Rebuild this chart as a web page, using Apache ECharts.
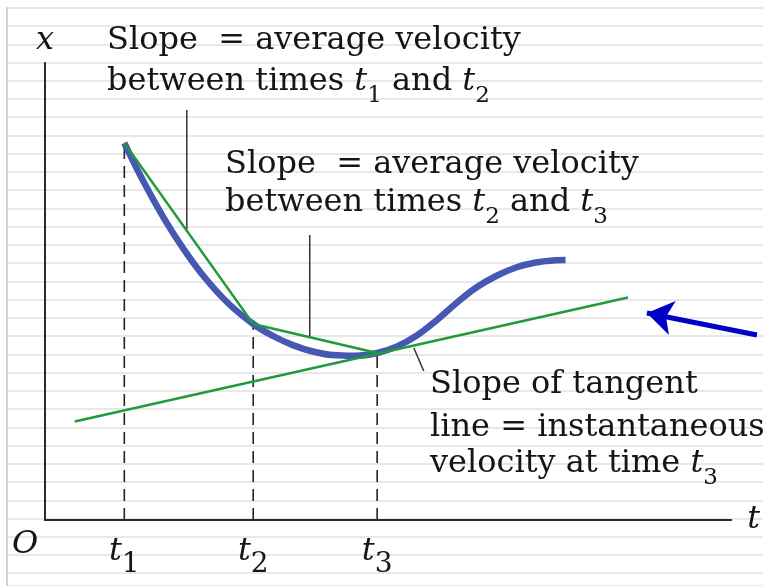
<!DOCTYPE html>
<html>
<head>
<meta charset="utf-8">
<script src="https://cdn.jsdelivr.net/npm/echarts@6/dist/echarts.min.js"></script>
<style>
html, body { margin: 0; padding: 0; background: #fff; }
#chart { width: 763px; height: 586px; }
</style>
</head>
<body>
<div id="chart"></div>
<script>
// Position x(t): average velocity as secant slopes, instantaneous velocity as tangent slope
const T_NAMES = ['1', '2', '3'];
const T_VALUES = [8, 21, 33.5];
const X_AT_T = [37.7, 19.6, 16.7];

// position curve x(t)
const CURVE_T = [8, 10, 12, 14, 16, 18.5, 21, 23, 25, 27, 29, 31.25, 33.5, 35.5, 37.5, 39.5, 41.5, 43.5, 45.5, 47.5, 49.5, 51.5, 52.5];
const CURVE_X = [37.7, 33.72, 30.17, 27.06, 24.38, 21.65, 19.6, 18.4, 17.49, 16.85, 16.49, 16.42, 16.7, 17.36, 18.45, 19.98, 21.7, 23.25, 24.4, 25.25, 25.75, 25.97, 26.0];

// tangent line through (t3, x(t3))
const TANGENT_T = [3.0, 58.8];
const TANGENT_X = [9.85, 22.25];

// callout arrow pointing at the tangent line
const ARROW_T = [71.8, 60.7];
const ARROW_X = [18.5, 20.7];

// leader lines from the captions to the lines they describe
const LEADERS = [
  [[14.3, 41.0], [14.3, 29.1]],
  [[26.7, 28.5], [26.7, 18.3]],
  [[37.2, 17.2], [38.2, 14.9]]
];

const T_MAX = 69.2;
const X_MAX = 45.7;

const SERIF = '"DejaVu Serif", "Liberation Serif", serif';
const INK = '#151515';
const BLUE = '#4658b2';
const GREEN = '#1f9a3c';

const zip = (a, b) => a.map((v, i) => [v, b[i]]);

const chart = echarts.init(document.getElementById('chart'), null, { renderer: 'canvas' });

const textRich = {
  i: { fontFamily: SERIF, fontStyle: 'italic', fontSize: 32, color: INK },
  s: { fontFamily: SERIF, fontSize: 23, color: INK, padding: [28, 0, 0, 0] }
};

function caption(text, x, y) {
  return {
    type: 'text',
    silent: true,
    z: 10,
    style: {
      text: text,
      x: x,
      y: y,
      align: 'left',
      verticalAlign: 'middle',
      fontFamily: SERIF,
      fontSize: 32,
      fill: INK,
      rich: textRich
    }
  };
}

const lineBase = {
  type: 'line',
  xAxisIndex: 0,
  yAxisIndex: 0,
  symbol: 'none',
  silent: true,
  animation: false
};

const series = [];

T_VALUES.forEach((t, i) => {
  series.push(Object.assign({}, lineBase, {
    data: [[t, 0], [t, X_AT_T[i]]],
    lineStyle: { color: '#222', width: 1.6, type: [12, 7] },
    z: 2
  }));
});

LEADERS.forEach(seg => {
  series.push(Object.assign({}, lineBase, {
    data: seg,
    lineStyle: { color: '#333', width: 1.5 },
    z: 2
  }));
});

series.push(Object.assign({}, lineBase, {
  data: zip(CURVE_T, CURVE_X),
  smooth: 0.4,
  lineStyle: { color: BLUE, width: 6.5 },
  z: 3
}));

series.push(Object.assign({}, lineBase, {
  data: [[T_VALUES[0], X_AT_T[0]], [T_VALUES[1], X_AT_T[1]]],
  lineStyle: { color: GREEN, width: 2.4 },
  z: 4
}));
series.push(Object.assign({}, lineBase, {
  data: [[T_VALUES[1], X_AT_T[1]], [T_VALUES[2], X_AT_T[2]]],
  lineStyle: { color: GREEN, width: 2.4 },
  z: 4
}));
series.push(Object.assign({}, lineBase, {
  data: zip(TANGENT_T, TANGENT_X),
  lineStyle: { color: GREEN, width: 2.4 },
  z: 4
}));

series.push({
  type: 'lines',
  coordinateSystem: 'cartesian2d',
  xAxisIndex: 0,
  yAxisIndex: 0,
  clip: false,
  silent: true,
  animation: false,
  symbol: ['none', 'arrow'],
  symbolSize: [22, 26],
  lineStyle: { color: '#0000c8', width: 5, opacity: 1 },
  data: [{ coords: zip(ARROW_T, ARROW_X) }],
  z: 5
});

chart.setOption({
  animation: false,
  backgroundColor: '#ffffff',
  grid: [
    { left: 45, top: 63, width: 692, height: 457, containLabel: false },
    { left: 7, right: 0, top: 7.8, bottom: 0, containLabel: false }
  ],
  xAxis: [
    {
      type: 'value',
      gridIndex: 0,
      min: 0,
      max: T_MAX,
      name: 't',
      nameLocation: 'end',
      nameGap: 16,
      nameTextStyle: { fontFamily: SERIF, fontStyle: 'italic', fontSize: 32, color: INK, verticalAlign: 'middle' },
      axisLine: { show: true, lineStyle: { color: '#2a2a2a', width: 2 } },
      axisTick: { show: false },
      splitLine: { show: false },
      axisLabel: {
        show: true,
        customValues: T_VALUES,
        margin: 5,
        formatter: v => '{i|t}{s|' + T_NAMES[T_VALUES.indexOf(v)] + '}',
        rich: {
          i: { fontFamily: SERIF, fontStyle: 'italic', fontSize: 32, color: INK },
          s: { fontFamily: SERIF, fontSize: 28, color: INK, padding: [26, 0, 0, 0] }
        }
      }
    },
    {
      type: 'value',
      gridIndex: 1,
      min: 0,
      max: 1,
      show: false
    }
  ],
  yAxis: [
    {
      type: 'value',
      gridIndex: 0,
      min: 0,
      max: X_MAX,
      name: 'x',
      nameLocation: 'end',
      nameGap: 6,
      nameTextStyle: { fontFamily: SERIF, fontStyle: 'italic', fontSize: 32, color: INK, align: 'center' },
      axisLine: { show: true, lineStyle: { color: '#2a2a2a', width: 2 } },
      axisTick: { show: false },
      axisLabel: { show: false },
      splitLine: { show: false }
    },
    {
      type: 'value',
      gridIndex: 1,
      min: 0,
      max: 31.7,
      interval: 1,
      inverse: true,
      axisLine: { show: true, lineStyle: { color: '#c4c4c4', width: 1.5 } },
      axisTick: { show: false },
      axisLabel: { show: false },
      splitLine: { show: true, lineStyle: { color: '#e0e0e0', width: 1.5 } }
    }
  ],
  series: series,
  graphic: [
    caption('Slope  = average velocity', 107, 41),
    caption('between times {i|t}{s|1} and {i|t}{s|2}', 107, 82),
    caption('Slope  = average velocity', 225, 165),
    caption('between times {i|t}{s|2} and {i|t}{s|3}', 225, 203),
    caption('Slope of tangent', 430, 385),
    caption('line = instantaneous', 430, 428),
    caption('velocity at time {i|t}{s|3}', 430, 464),
    {
      type: 'text',
      silent: true,
      z: 10,
      style: {
        text: 'O', x: 25, y: 545, align: 'center', verticalAlign: 'middle',
        fontFamily: SERIF, fontStyle: 'italic', fontSize: 32, fill: INK
      }
    }
  ]
});
</script>
</body>
</html>
